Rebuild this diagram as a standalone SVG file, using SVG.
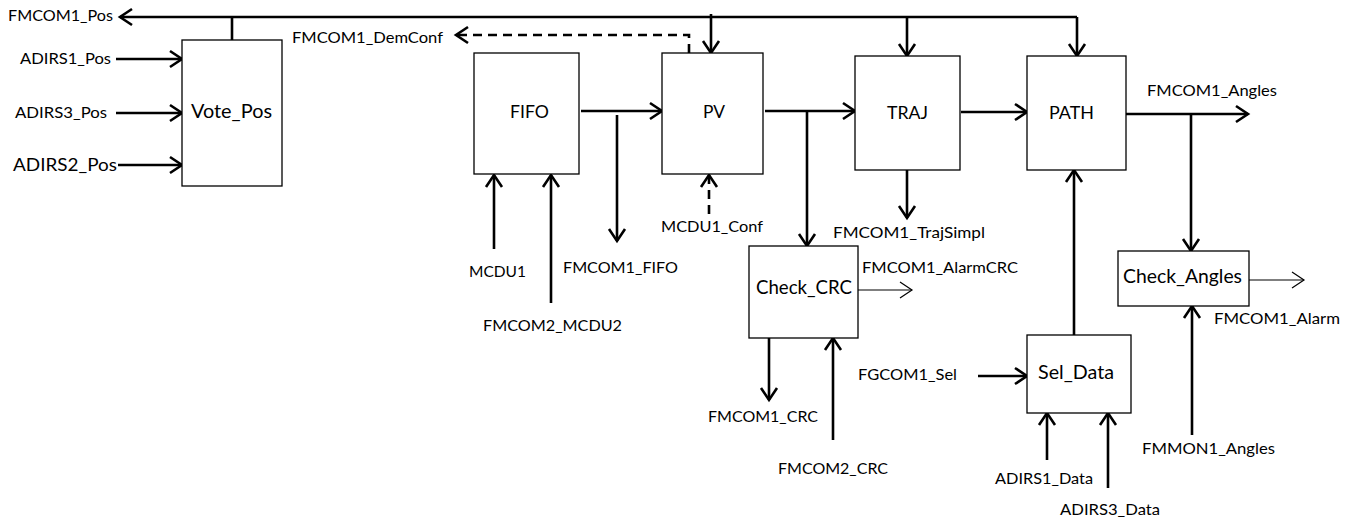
<svg xmlns="http://www.w3.org/2000/svg" width="1354" height="522" viewBox="0 0 1354 522">
<style>
.box{fill:#fff;stroke:#000;stroke-width:1.3}
.t{font-family:Lato,"Liberation Sans",sans-serif;font-size:15px;fill:#000;text-anchor:middle}
.bt{font-family:Lato,"Liberation Sans",sans-serif;font-size:19px;fill:#000;text-anchor:middle}
.c{fill:none;stroke:#000;stroke-width:2.6}
.d{fill:none;stroke:#000;stroke-width:2.6;stroke-dasharray:9,6}
.th{fill:none;stroke:#000;stroke-width:1.2}
</style>
<defs>
<marker id="a" markerUnits="userSpaceOnUse" markerWidth="18" markerHeight="20" refX="14" refY="10" orient="auto">
<path d="M2,2 L14,10 L2,18" fill="none" stroke="#000" stroke-width="2.6"/>
</marker>
<marker id="at" markerUnits="userSpaceOnUse" markerWidth="18" markerHeight="20" refX="14" refY="10" orient="auto">
<path d="M2,2 L14,10 L2,18" fill="none" stroke="#000" stroke-width="1.2"/>
</marker>
</defs>
<rect width="1354" height="522" fill="#fff"/>
<g id="connectors">
<path class="c" d="M232,40 L232,17"/>
<path class="c" d="M1077,17 L120,17" marker-end="url(#a)"/>
<path class="c" d="M711,14 L711,53" marker-end="url(#a)"/>
<path class="c" d="M907,17 L907,56" marker-end="url(#a)"/>
<path class="c" d="M1077,17 L1077,56" marker-end="url(#a)"/>
<path class="c" d="M116,59 L182,59" marker-end="url(#a)"/>
<path class="c" d="M116,113 L182,113" marker-end="url(#a)"/>
<path class="c" d="M118,165 L182,165" marker-end="url(#a)"/>
<path class="d" d="M689,53 L689,35 L456,35" marker-end="url(#a)"/>
<path class="c" d="M581,111 L662,111" marker-end="url(#a)"/>
<path class="c" d="M617,115 L617,241" marker-end="url(#a)"/>
<path class="c" d="M765,111 L855,111" marker-end="url(#a)"/>
<path class="c" d="M807,111 L807,246" marker-end="url(#a)"/>
<path class="c" d="M961,112 L1027,112" marker-end="url(#a)"/>
<path class="c" d="M1126,114 L1248,114" marker-end="url(#a)"/>
<path class="c" d="M1191,114 L1191,251" marker-end="url(#a)"/>
<path class="c" d="M494,249 L494,175" marker-end="url(#a)"/>
<path class="c" d="M551,303 L551,175" marker-end="url(#a)"/>
<path class="d" d="M709,214 L709,175" marker-end="url(#a)"/>
<path class="c" d="M907,170 L907,218" marker-end="url(#a)"/>
<path class="th" d="M858,290 L912,290" marker-end="url(#at)"/>
<path class="c" d="M769,338 L769,400" marker-end="url(#a)"/>
<path class="c" d="M833,440 L833,338" marker-end="url(#a)"/>
<path class="c" d="M978,376 L1027,376" marker-end="url(#a)"/>
<path class="c" d="M1074,335 L1074,170" marker-end="url(#a)"/>
<path class="c" d="M1047,460 L1047,413" marker-end="url(#a)"/>
<path class="c" d="M1108,488 L1108,413" marker-end="url(#a)"/>
<path class="th" d="M1249,280 L1304,280" marker-end="url(#at)"/>
<path class="c" d="M1192,435 L1192,306" marker-end="url(#a)"/>
</g>
<g id="labels">
<text class="t" x="60.5" y="21" textLength="105" lengthAdjust="spacingAndGlyphs">FMCOM1_Pos</text>
<text class="t" x="65.5" y="64" textLength="91" lengthAdjust="spacingAndGlyphs">ADIRS1_Pos</text>
<text class="t" x="61" y="118" textLength="92" lengthAdjust="spacingAndGlyphs">ADIRS3_Pos</text>
<text class="t" x="65" y="171" style="font-size:17px" textLength="104" lengthAdjust="spacingAndGlyphs">ADIRS2_Pos</text>
<text class="t" x="367.5" y="43" textLength="151" lengthAdjust="spacingAndGlyphs">FMCOM1_DemConf</text>
<text class="t" x="1212" y="96" textLength="130" lengthAdjust="spacingAndGlyphs">FMCOM1_Angles</text>
<text class="t" x="497.5" y="277" textLength="57" lengthAdjust="spacingAndGlyphs">MCDU1</text>
<text class="t" x="552.5" y="331" textLength="139" lengthAdjust="spacingAndGlyphs">FMCOM2_MCDU2</text>
<text class="t" x="620.5" y="273" textLength="115" lengthAdjust="spacingAndGlyphs">FMCOM1_FIFO</text>
<text class="t" x="712" y="232" textLength="102" lengthAdjust="spacingAndGlyphs">MCDU1_Conf</text>
<text class="t" x="909" y="238" textLength="152" lengthAdjust="spacingAndGlyphs">FMCOM1_TrajSimpl</text>
<text class="t" x="940" y="273" textLength="156" lengthAdjust="spacingAndGlyphs">FMCOM1_AlarmCRC</text>
<text class="t" x="763" y="422" textLength="110" lengthAdjust="spacingAndGlyphs">FMCOM1_CRC</text>
<text class="t" x="833" y="474" textLength="110" lengthAdjust="spacingAndGlyphs">FMCOM2_CRC</text>
<text class="t" x="907.5" y="380" textLength="99" lengthAdjust="spacingAndGlyphs">FGCOM1_Sel</text>
<text class="t" x="1044" y="484" textLength="98" lengthAdjust="spacingAndGlyphs">ADIRS1_Data</text>
<text class="t" x="1110" y="515" textLength="100" lengthAdjust="spacingAndGlyphs">ADIRS3_Data</text>
<text class="t" x="1277" y="324" textLength="126" lengthAdjust="spacingAndGlyphs">FMCOM1_Alarm</text>
<text class="t" x="1208.5" y="454" textLength="133" lengthAdjust="spacingAndGlyphs">FMMON1_Angles</text>
</g>
<g id="Vote_Pos"><rect class="box" x="182" y="40" width="100" height="146"/><text class="bt" x="231.5" y="118" style="font-size:20px" textLength="81" lengthAdjust="spacingAndGlyphs">Vote_Pos</text></g>
<g id="FIFO"><rect class="box" x="474" y="53" width="105" height="121"/><text class="bt" x="529.5" y="118" style="font-size:18px" textLength="39" lengthAdjust="spacingAndGlyphs">FIFO</text></g>
<g id="PV"><rect class="box" x="662" y="53" width="101" height="121"/><text class="bt" x="714" y="118" style="font-size:18px" textLength="22" lengthAdjust="spacingAndGlyphs">PV</text></g>
<g id="TRAJ"><rect class="box" x="855" y="56" width="105" height="114"/><text class="bt" x="907.5" y="119" style="font-size:18px" textLength="41" lengthAdjust="spacingAndGlyphs">TRAJ</text></g>
<g id="PATH"><rect class="box" x="1027" y="56" width="99" height="114"/><text class="bt" x="1071.5" y="119" style="font-size:18px" textLength="45" lengthAdjust="spacingAndGlyphs">PATH</text></g>
<g id="Check_CRC"><rect class="box" x="749" y="246" width="109" height="92"/><text class="bt" x="804" y="294" textLength="96" lengthAdjust="spacingAndGlyphs">Check_CRC</text></g>
<g id="Sel_Data"><rect class="box" x="1027" y="335" width="104" height="78"/><text class="bt" x="1076" y="379" textLength="76" lengthAdjust="spacingAndGlyphs">Sel_Data</text></g>
<g id="Check_Angles"><rect class="box" x="1118" y="251" width="131" height="55"/><text class="bt" x="1182.5" y="283" textLength="119" lengthAdjust="spacingAndGlyphs">Check_Angles</text></g>
</svg>
